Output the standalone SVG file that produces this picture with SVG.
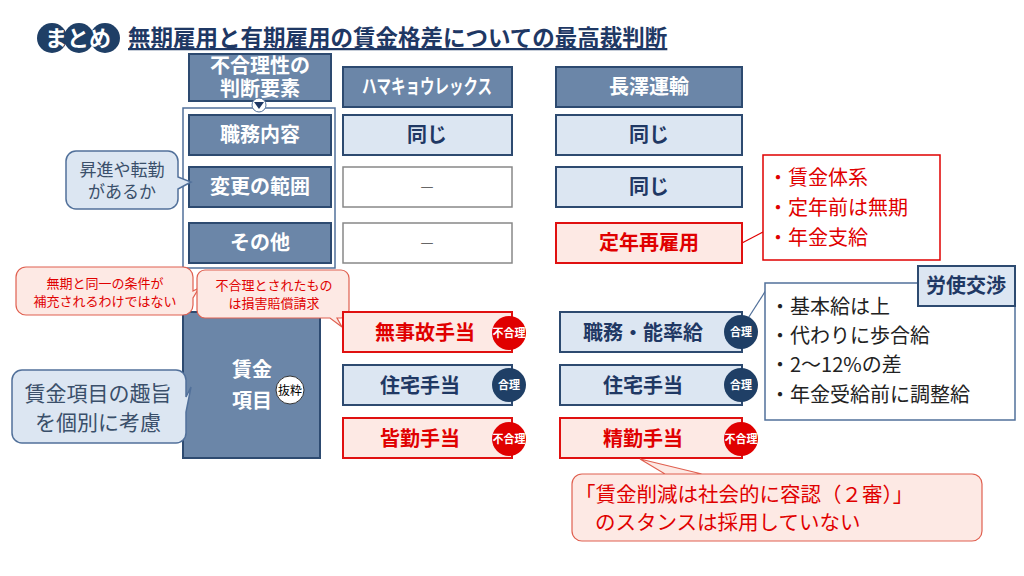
<svg xmlns="http://www.w3.org/2000/svg" width="1024" height="576" viewBox="0 0 1024 576">
<style>
text{font-family:"Noto Sans CJK JP","Noto Sans",sans-serif;font-weight:bold}
.hd{fill:#6b86a8;stroke:#2d4a70;stroke-width:2}
.lb{fill:#dce6f2;stroke:#2d4a70;stroke-width:2}
.wb{fill:#fff;stroke:#888;stroke-width:1.5}
.rb{fill:#fde9e4;stroke:#e01010;stroke-width:2}
.wt{fill:#fff;font-size:20px;text-anchor:middle}
.nt{fill:#1f3864;font-size:20px;text-anchor:middle}
.rt{fill:#e00000;font-size:20px;text-anchor:middle}
.cl{fill:#dce6f2;stroke:#51709a;stroke-width:1.5}
.rc{fill:#fde9e4;stroke:#e06050;stroke-width:1.2}
.ok{fill:#1f3f66}
.ng{fill:#e00000}
.bt{fill:#fff;font-size:11px;text-anchor:middle}
.nr{font-weight:normal}
</style>
<g id="title">
<circle cx="52" cy="38" r="15" fill="#1f3f66"/><circle cx="79" cy="38" r="15" fill="#1f3f66"/><circle cx="105" cy="38" r="15" fill="#1f3f66"/>
<text x="78" y="46" fill="#fff" font-size="22" text-anchor="middle">まとめ</text>
<text x="128" y="46" fill="#1f3864" font-size="22.5" text-decoration="underline">無期雇用と有期雇用の賃金格差についての最高裁判断</text>
</g>
<g id="connectors" fill="none" stroke="#51709a" stroke-width="1.2">
<line x1="742" y1="243" x2="763" y2="232" stroke="#e00000"/>
<line x1="770" y1="284" x2="745" y2="323"/>
</g>
<rect x="183" y="108" width="152" height="160" fill="none" stroke="#51709a" stroke-width="1.5"/>
<g id="h1"><rect class="hd" x="189" y="54" width="142" height="47"/><text class="wt" x="260" y="73">不合理性の</text><text class="wt" x="260" y="96">判断要素</text>
<circle cx="259" cy="105" r="7" fill="#fff" stroke="#51709a"/><path d="M254,102h10l-5,7z" fill="#1f3864"/></g>
<g id="h2"><rect class="hd" x="343" y="67" width="169" height="40"/><text class="wt" x="427" y="94" font-size="20" textLength="130" lengthAdjust="spacingAndGlyphs">ハマキョウレックス</text></g>
<g id="h3"><rect class="hd" x="556" y="67" width="186" height="40"/><text class="wt" x="649" y="94">長澤運輸</text></g>
<g id="r1"><rect class="hd" x="189" y="115" width="142" height="40"/><text class="wt" x="260" y="142">職務内容</text>
<rect class="lb" x="343" y="115" width="169" height="40"/><text class="nt" x="427" y="142">同じ</text>
<rect class="lb" x="556" y="115" width="186" height="40"/><text class="nt" x="649" y="142">同じ</text></g>
<g id="r2"><rect class="hd" x="189" y="167" width="142" height="40"/><text class="wt" x="260" y="194">変更の範囲</text>
<rect class="wb" x="343" y="167" width="169" height="40"/><text x="427" y="193" fill="#666" font-size="16" text-anchor="middle" class="nr">－</text>
<rect class="lb" x="556" y="167" width="186" height="40"/><text class="nt" x="649" y="194">同じ</text></g>
<g id="r3"><rect class="hd" x="189" y="223" width="142" height="40"/><text class="wt" x="260" y="250">その他</text>
<rect class="wb" x="343" y="223" width="169" height="40"/><text x="427" y="249" fill="#666" font-size="16" text-anchor="middle" class="nr">－</text>
<rect class="rb" x="556" y="223" width="186" height="40"/><text class="rt" x="649" y="250">定年再雇用</text></g>
<g id="redlist"><rect x="763" y="155" width="177" height="105" fill="#fff" stroke="#e00000" stroke-width="1.5"/>
<text class="nr" x="768" y="185" fill="#e00000" font-size="20">・賃金体系</text>
<text class="nr" x="768" y="215" fill="#e00000" font-size="20">・定年前は無期</text>
<text class="nr" x="768" y="245" fill="#e00000" font-size="20">・年金支給</text></g>
<g id="c1"><path class="cl" d="M76,151h92a10,10 0 0 1 10,10v16l13,5l-13,7v10a10,10 0 0 1 -10,10h-92a10,10 0 0 1 -10,-10v-38a10,10 0 0 1 10,-10z"/>
<text class="nr" x="122" y="176" fill="#3a4f6a" font-size="17" text-anchor="middle">昇進や転勤</text><text class="nr" x="122" y="198" fill="#3a4f6a" font-size="17" text-anchor="middle">があるか</text></g>
<g id="wage"><rect class="hd" x="183" y="312" width="137" height="146"/><text class="wt" x="252" y="377">賃金</text><text class="wt" x="252" y="408">項目</text>
<circle cx="290" cy="390" r="14" fill="#fff" stroke="#333"/><text x="290" y="395" font-size="12" text-anchor="middle" class="nr" fill="#000">抜粋</text></g>
<g id="c2"><path class="rc" d="M26,267h157a10,10 0 0 1 10,10v14l6,-3l-6,10v7a10,10 0 0 1 -10,10h-157a10,10 0 0 1 -10,-10v-28a10,10 0 0 1 10,-10z"/>
<text class="nr" x="105" y="288" fill="#e00000" font-size="13" text-anchor="middle">無期と同一の条件が</text><text class="nr" x="105" y="306" fill="#e00000" font-size="13" text-anchor="middle">補充されるわけではない</text></g>
<g id="c3"><path class="rc" d="M205,270h136a8,8 0 0 1 8,8v32a8,8 0 0 1 -8,8h-4l5,9l-12,-9h-125a8,8 0 0 1 -8,-8v-32a8,8 0 0 1 8,-8z"/>
<text class="nr" x="274" y="290" fill="#e00000" font-size="13" text-anchor="middle">不合理とされたもの</text><text class="nr" x="274" y="308" fill="#e00000" font-size="13" text-anchor="middle">は損害賠償請求</text></g>
<g id="c4"><path class="cl" d="M22,370h154a10,10 0 0 1 10,10v17l5,-10l-5,25v21a10,10 0 0 1 -10,10h-154a10,10 0 0 1 -10,-10v-53a10,10 0 0 1 10,-10z"/>
<text class="nr" x="98" y="401" fill="#3a4f6a" font-size="21" text-anchor="middle">賃金項目の趣旨</text><text class="nr" x="98" y="430" fill="#3a4f6a" font-size="21" text-anchor="middle">を個別に考慮</text></g>
<g id="a1"><rect class="rb" x="343" y="312" width="169" height="40"/><text class="rt" x="425" y="340">無事故手当</text><circle class="ng" cx="509" cy="333" r="17"/><text class="bt" x="509" y="337">不合理</text></g>
<g id="a2"><rect class="lb" x="343" y="365" width="169" height="40"/><text class="nt" x="420" y="393">住宅手当</text><circle class="ok" cx="509" cy="385" r="17"/><text class="bt" x="509" y="389">合理</text></g>
<g id="a3"><rect class="rb" x="343" y="418" width="169" height="40"/><text class="rt" x="420" y="446">皆勤手当</text><circle class="ng" cx="509" cy="439" r="17"/><text class="bt" x="509" y="443">不合理</text></g>
<g id="b1"><rect class="lb" x="560" y="312" width="182" height="40"/><text class="nt" x="643" y="340">職務・能率給</text><circle class="ok" cx="741" cy="332" r="17"/><text class="bt" x="741" y="336">合理</text></g>
<g id="b2"><rect class="lb" x="560" y="365" width="182" height="40"/><text class="nt" x="643" y="393">住宅手当</text><circle class="ok" cx="741" cy="385" r="17"/><text class="bt" x="741" y="389">合理</text></g>
<g id="b3"><rect class="rb" x="560" y="418" width="182" height="40"/><text class="rt" x="643" y="446">精勤手当</text><circle class="ng" cx="741" cy="439" r="17"/><text class="bt" x="741" y="443">不合理</text></g>
<g id="blist"><rect x="765" y="283" width="250" height="137" fill="#fff" stroke="#51709a" stroke-width="1.5"/>
<text class="nr" x="770" y="314" fill="#222" font-size="20">・基本給は上</text>
<text class="nr" x="770" y="343" fill="#222" font-size="20">・代わりに歩合給</text>
<text class="nr" x="770" y="372" fill="#222" font-size="20">・2～12%の差</text>
<text class="nr" x="770" y="402" fill="#222" font-size="20">・年金受給前に調整給</text></g>
<g id="roshi"><rect class="lb" x="918" y="266" width="97" height="40" stroke-width="1.5"/><text class="nt" x="966" y="293">労使交渉</text></g>
<g id="c5"><path class="rc" d="M582,474h120l-62,-15l25,15h307a10,10 0 0 1 10,10v47a10,10 0 0 1 -10,10h-390a10,10 0 0 1 -10,-10v-47a10,10 0 0 1 10,-10z" stroke="#e00000"/>
<text class="nr" x="575" y="502" fill="#e00000" font-size="20.5">「賃金削減は社会的に容認（２審）」</text>
<text class="nr" x="595" y="530" fill="#e00000" font-size="20.5">のスタンスは採用していない</text></g>
</svg>
